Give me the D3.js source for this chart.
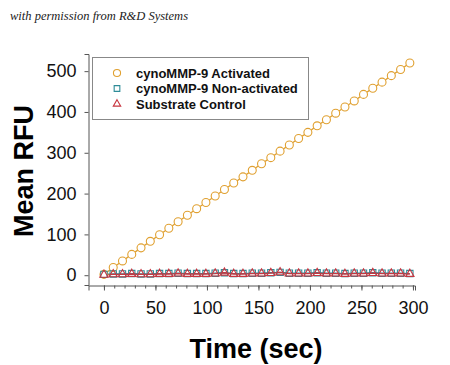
<!DOCTYPE html>
<html><head><meta charset="utf-8">
<script src="https://cdn.jsdelivr.net/npm/d3@7"></script>
<style>body{margin:0;background:#fff}svg{display:block}</style>
</head><body>
<svg id="c" width="450" height="365"></svg>
<script>
const times = [0,9,18,27,36,45,54,63,72,81,90,99,108,117,126,135,144,153,162,171,180,189,198,207,216,225,234,243,252,261,270,279,288,297];
const activated = [2,19,35,51,67,83,99,115,131,147,163,178,194,210,226,241,257,273,288,304,319,335,350,366,381,397,412,427,443,458,473,489,504,520];
const nonActivated = [2,3,3,4,3,3,4,4,5,4,4,4,5,6,4,4,5,5,6,7,5,5,5,6,5,5,4,5,5,6,5,5,5,4];
const substrateCtrl = [1,2,2,3,2,2,3,3,4,3,3,3,4,6,3,3,4,4,5,7,4,4,4,5,4,4,3,4,4,5,4,4,4,3];
const seriesNames = ["cynoMMP-9 Activated","cynoMMP-9 Non-activated","Substrate Control"];
const xTicks = [0,50,100,150,200,250,300];
const yTicks = [0,100,200,300,400,500];

const svg = d3.select("#c");
const x = d3.scaleLinear().domain([-15,302]).range([88.5,415]);
const y = d3.scaleLinear().domain([-24,542]).range([285,54]);

svg.append("text").attr("x",10).attr("y",20)
  .attr("font-family","'Liberation Serif', serif").attr("font-style","italic")
  .attr("font-size",12.5).attr("fill","#222").text("with permission from R&D Systems");

// axes
const gy = svg.append("g").attr("transform","translate(88.5,0)");
gy.call(d3.axisLeft(y).tickValues(yTicks).tickSize(4).tickPadding(8));
const gx = svg.append("g").attr("transform","translate(0,285.5)");
gx.call(d3.axisBottom(x).tickValues(xTicks).tickSize(5).tickPadding(11));
const gxm = svg.append("g").attr("transform","translate(0,285.5)");
gxm.call(d3.axisBottom(x).tickValues(d3.range(0,301,10)).tickSize(3).tickFormat(""));
gxm.select(".domain").remove();
[gy,gx,gxm].forEach(g=>{
  g.selectAll(".domain").attr("stroke","#555");
  g.selectAll(".tick line").attr("stroke","#555");
  g.selectAll("text").attr("font-family","Arial, 'Liberation Sans', sans-serif").attr("font-size",18).attr("fill","#111");
});

svg.append("text").attr("transform","translate(33,171) rotate(-90)").attr("text-anchor","middle")
  .attr("font-family","Arial, 'Liberation Sans', sans-serif").attr("font-weight","bold").attr("font-size",27)
  .attr("fill","#000").text("Mean RFU");
svg.append("text").attr("x",256).attr("y",358).attr("text-anchor","middle")
  .attr("font-family","Arial, 'Liberation Sans', sans-serif").attr("font-weight","bold").attr("font-size",27)
  .attr("fill","#000").text("Time (sec)");

const cols = ["#E0A030","#2F8C98","#C83640"];
const data = [activated, nonActivated, substrateCtrl];
const line = d3.line().x((d,i)=>x(times[i])).y(d=>y(d));
const sym = [d3.symbolCircle, d3.symbolSquare, d3.symbolTriangle];
const sizes = [50, 40, 30];
data.forEach((vals,k)=>{
  svg.append("path").datum(vals).attr("d",line).attr("fill","none").attr("stroke",cols[k]).attr("stroke-width",1.3);
});
data.forEach((vals,k)=>{
  svg.append("g").selectAll("path").data(vals).join("path")
    .attr("transform",(d,i)=>`translate(${x(times[i])},${y(d)})`)
    .attr("d",d3.symbol().type(sym[k]).size(sizes[k]))
    .attr("fill",k===0?"#fff":"none").attr("stroke",cols[k]).attr("stroke-width",1.1);
});

// legend
svg.append("rect").attr("x",92.5).attr("y",57.5).attr("width",216).attr("height",62)
  .attr("fill","#fff").attr("stroke","#888").attr("stroke-width",1);
seriesNames.forEach((n,k)=>{
  const yy = 73 + k*15.5;
  svg.append("path").attr("transform",`translate(117,${yy})`)
    .attr("d",d3.symbol().type(sym[k]).size(sizes[k]*0.8))
    .attr("fill","none").attr("stroke",cols[k]).attr("stroke-width",1.1);
  svg.append("text").attr("x",136).attr("y",yy+4.5)
    .attr("font-family","Arial, 'Liberation Sans', sans-serif").attr("font-weight","bold").attr("font-size",13)
    .attr("fill","#111").text(n);
});
</script>
</body></html>
